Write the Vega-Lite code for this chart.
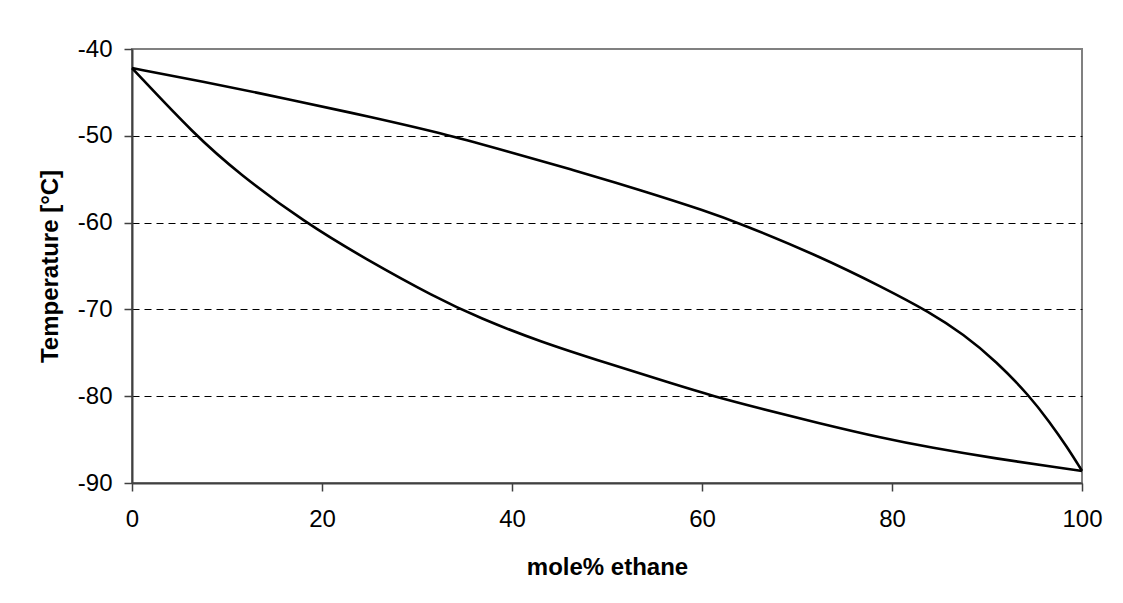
{
  "$schema": "https://vega.github.io/schema/vega-lite/v6.json",
  "autosize": {"type": "none"},
  "width": 950,
  "height": 434,
  "padding": {"left": 132, "top": 49, "right": 41, "bottom": 120},
  "background": "white",
  "data": {
    "values": [
      {"x": 0, "t": -42.2, "curve": "dew"},
      {"x": 7.0, "t": -43.65, "curve": "dew"},
      {"x": 16.8, "t": -45.85, "curve": "dew"},
      {"x": 25.0, "t": -47.8, "curve": "dew"},
      {"x": 33.7, "t": -50.0, "curve": "dew"},
      {"x": 39.4, "t": -51.75, "curve": "dew"},
      {"x": 46.5, "t": -53.95, "curve": "dew"},
      {"x": 53.5, "t": -56.25, "curve": "dew"},
      {"x": 60.5, "t": -58.7, "curve": "dew"},
      {"x": 64.0, "t": -60.1, "curve": "dew"},
      {"x": 72.1, "t": -63.75, "curve": "dew"},
      {"x": 79.1, "t": -67.5, "curve": "dew"},
      {"x": 84.0, "t": -70.35, "curve": "dew"},
      {"x": 87.5, "t": -72.85, "curve": "dew"},
      {"x": 91.0, "t": -76.0, "curve": "dew"},
      {"x": 94.5, "t": -80.0, "curve": "dew"},
      {"x": 96.6, "t": -83.0, "curve": "dew"},
      {"x": 98.4, "t": -85.8, "curve": "dew"},
      {"x": 100, "t": -88.6, "curve": "dew"},
      {"x": 0, "t": -42.2, "curve": "bubble"},
      {"x": 6.7, "t": -50.0, "curve": "bubble"},
      {"x": 11.2, "t": -54.3, "curve": "bubble"},
      {"x": 18.2, "t": -60.0, "curve": "bubble"},
      {"x": 24.6, "t": -64.2, "curve": "bubble"},
      {"x": 31.9, "t": -68.6, "curve": "bubble"},
      {"x": 36.6, "t": -71.0, "curve": "bubble"},
      {"x": 42.9, "t": -73.7, "curve": "bubble"},
      {"x": 50.0, "t": -76.2, "curve": "bubble"},
      {"x": 57.0, "t": -78.6, "curve": "bubble"},
      {"x": 61.2, "t": -80.0, "curve": "bubble"},
      {"x": 66.1, "t": -81.4, "curve": "bubble"},
      {"x": 72.1, "t": -83.05, "curve": "bubble"},
      {"x": 79.1, "t": -84.85, "curve": "bubble"},
      {"x": 84.0, "t": -85.9, "curve": "bubble"},
      {"x": 91.0, "t": -87.2, "curve": "bubble"},
      {"x": 97.9, "t": -88.3, "curve": "bubble"},
      {"x": 100, "t": -88.6, "curve": "bubble"}
    ]
  },
  "mark": {"type": "line", "color": "black", "strokeWidth": 2.6, "interpolate": "basis"},
  "encoding": {
    "x": {
      "field": "x", "type": "quantitative",
      "scale": {"domain": [0, 100], "nice": false},
      "axis": {"values": [0, 20, 40, 60, 80, 100], "grid": false, "title": "mole% ethane", "titlePadding": 24, "labelPadding": 16, "labelFlush": false}
    },
    "y": {
      "field": "t", "type": "quantitative",
      "scale": {"domain": [-90, -40], "nice": false, "zero": false},
      "axis": {
        "values": [-90, -80, -70, -60, -50, -40],
        "labelExpr": "'' + datum.value",
        "labelFlush": false,
        "grid": true,
        "gridColor": "black",
        "gridOpacity": {"condition": {"test": "datum.value === -40 || datum.value === -90", "value": 0}, "value": 1},
        "gridDash": [7, 5],
        "gridWidth": 1,
        "title": "Temperature [°C]",
        "titlePadding": 15,
        "labelPadding": 12
      }
    },
    "detail": {"field": "curve", "type": "nominal"}
  },
  "config": {
    "font": "Liberation Sans",
    "view": {"stroke": "#808080", "strokeWidth": 2},
    "axis": {
      "domainColor": "#404040",
      "domainWidth": 2,
      "tickColor": "#404040",
      "tickWidth": 1.5,
      "tickSize": 8,
      "labelFont": "Liberation Sans",
      "labelFontSize": 24,
      "labelColor": "black",
      "titleFont": "Liberation Sans",
      "titleFontSize": 24,
      "titleFontWeight": "bold",
      "titleColor": "black"
    }
  }
}
